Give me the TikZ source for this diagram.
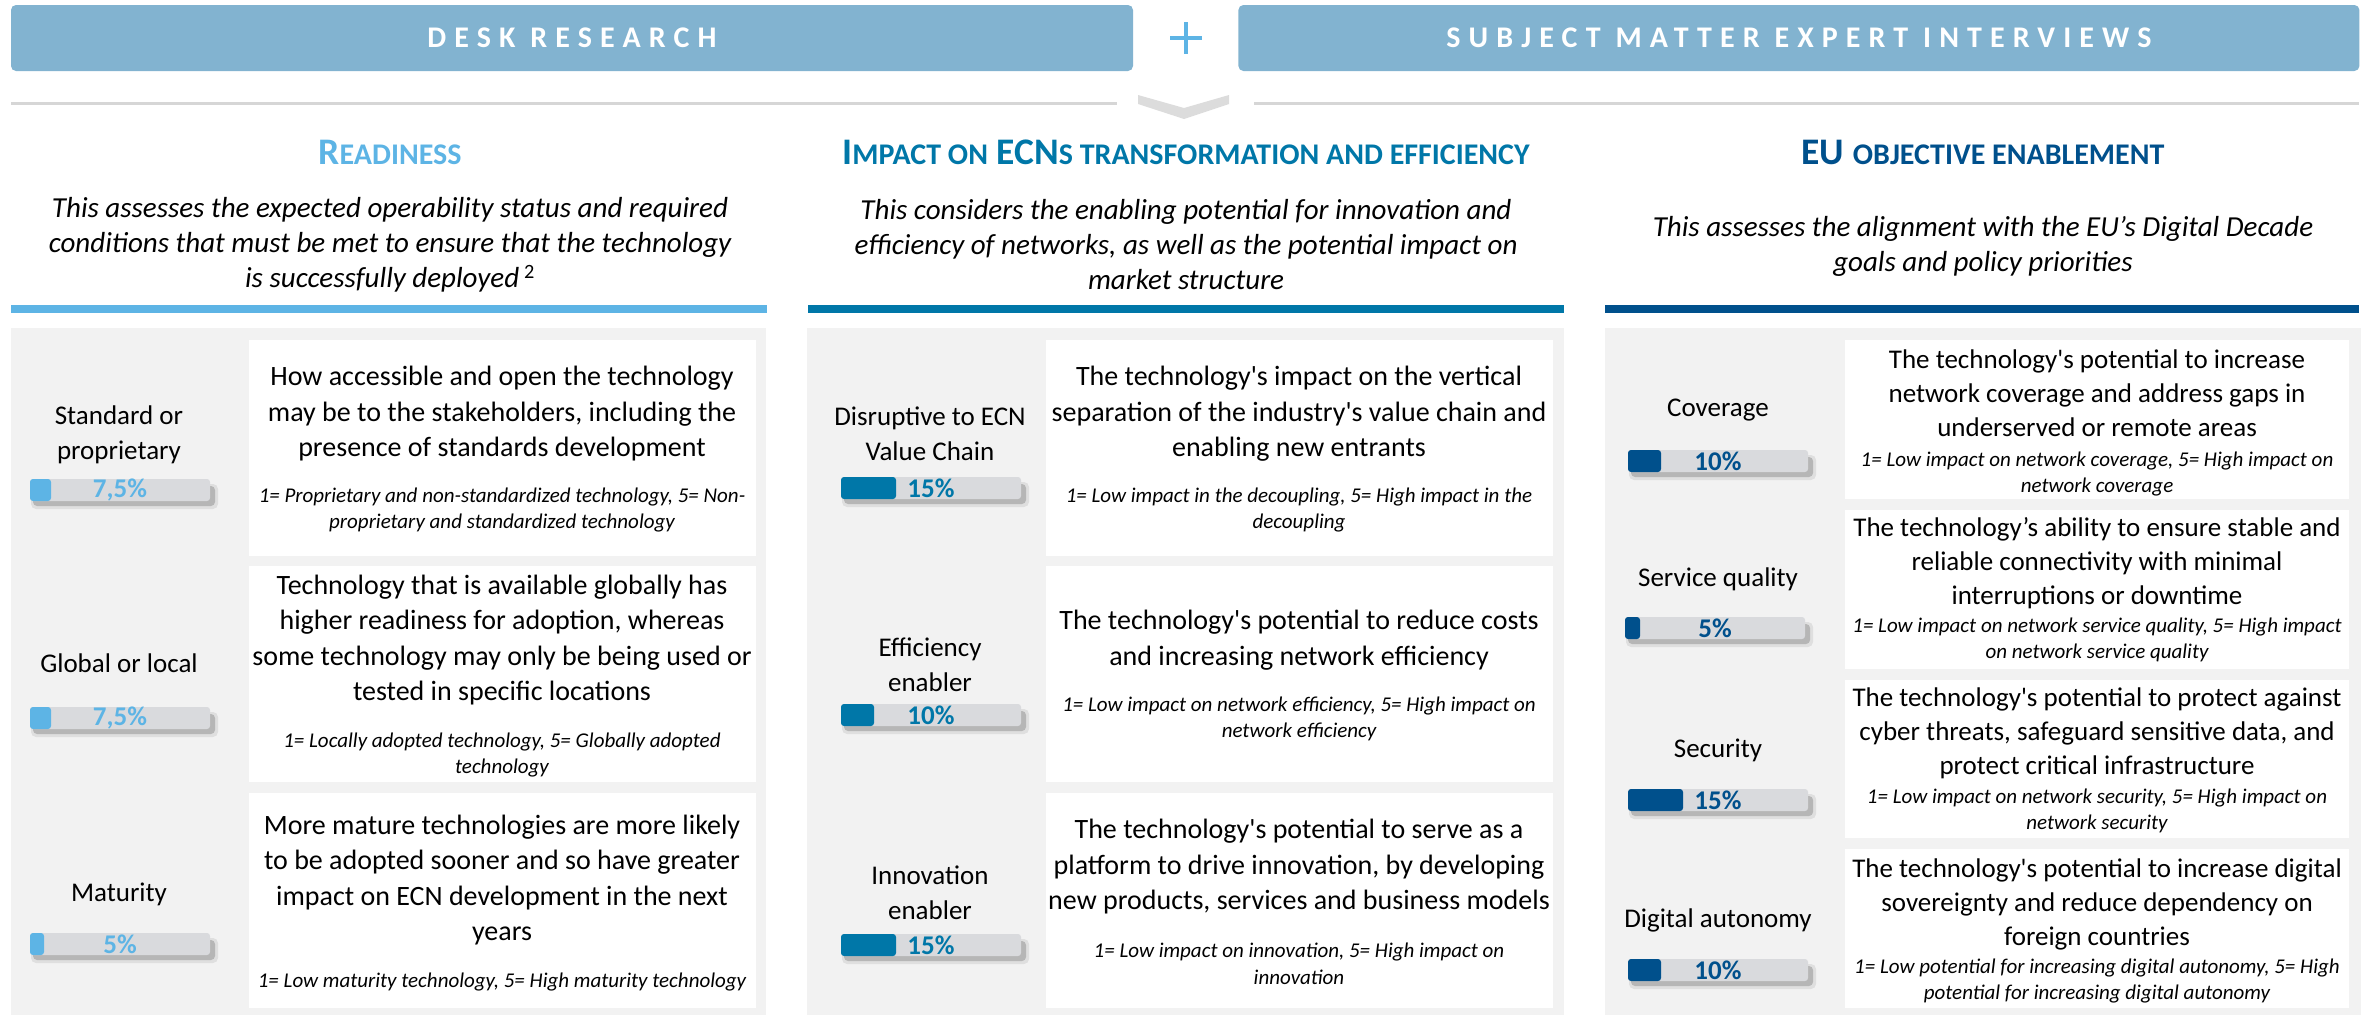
\documentclass[tikz,border=0pt]{standalone}
\usepackage{fontspec}
\setmainfont{Carlito}
\usetikzlibrary{positioning}
\definecolor{hdr}{RGB}{130,179,208}
\definecolor{cread}{RGB}{93,180,229}
\definecolor{cimp}{RGB}{0,119,168}
\definecolor{ceu}{RGB}{0,80,140}
\definecolor{panel}{RGB}{242,242,242}
\definecolor{rulegray}{RGB}{214,214,214}
\definecolor{track}{RGB}{217,218,221}
\newcommand{\fs}[2]{\fontsize{#1}{#2}\selectfont}
\newcommand{\smc}[1]{{\fs{30}{34}#1}}
\newcommand{\aq}{\textquotesingle}
% name, left x, centre y, fill width, colour, value
\newcommand{\pbar}[6]{%
  \fill[black,opacity=.08,rounded corners=5pt] (#2+1,#3-6) rectangle (#2+188,#3+19);
  \fill[black,opacity=.18,rounded corners=4pt] (#2+3,#3-4) rectangle (#2+185,#3+16);
  \fill[track,rounded corners=3pt] (#2,#3-11) rectangle (#2+180,#3+11);
  \fill[#5,rounded corners=3pt] (#2,#3-11) rectangle (#2+#4,#3+11);
  \node[pct,text=#5] (#1) at (#2+90,#3) {#6};}

\begin{document}
\begin{tikzpicture}[x=1pt,y=-1pt,
    hdrbox/.style={fill=hdr,rounded corners=5pt,text=white,inner sep=0pt,minimum height=66pt,
      font=\fs{30}{36}\bfseries\addfontfeatures{LetterSpace=27}},
    title/.style={font=\bfseries\fs{37.5}{42},anchor=base,inner sep=0pt},
    lead/.style={font=\itshape\fs{29}{35},align=center,inner sep=0pt},
    body/.style={font=\fs{28}{35.5},align=center,inner sep=0pt},
    ebody/.style={body,font=\fs{27}{34}},
    hint/.style={font=\itshape\fs{21}{26.5},align=center,inner sep=0pt},
    crit/.style={font=\fs{27}{35},align=center,inner sep=0pt},
    pct/.style={font=\bfseries\fs{27}{30},inner sep=0pt}]
  \useasboundingbox (0,0) rectangle (2369,1015);

  % top row
  \node[hdrbox,minimum width=1122pt] (desk) at (572,38) {DESK RESEARCH};
  \node[hdrbox,minimum width=1121pt,right=105pt of desk] (sme) {SUBJECT MATTER EXPERT INTERVIEWS};
  \draw[cread,line width=4pt] (1170,38) -- (1202,38) (1186,22) -- (1186,54);
  \draw[rulegray,line width=3pt] (11,103) -- (1117,103) (1254,103) -- (2359,103);
  \fill[rulegray!85!white] (1138,95) -- (1184,108) -- (1229,95) -- (1229,104) -- (1184,119) -- (1138,104) -- cycle;

  % titles
  \node[title,text=cread] (rtitle) at (390,164) {R\smc{EADINESS}};
  \node[title,text=cimp] (ititle) at (1186,164) {I\smc{MPACT ON} ECN\smc{S TRANSFORMATION AND EFFICIENCY}};
  \node[title,text=ceu] (etitle) at (1983,164) {EU \smc{OBJECTIVE ENABLEMENT}};
  \node[lead] (rlead) at (390,245) {This assesses the expected operability status and required\\conditions that must be met to ensure that the technology\\is successfully deployed\,\textsuperscript{\upshape 2}};
  \node[lead] (ilead) at (1186,245) {This considers the enabling potential for innovation and\\efficiency of networks, as well as the potential impact on\\market structure};
  \node[lead] (elead) at (1983,246) {This assesses the alignment with the EU’s Digital Decade\\goals and policy priorities};
  \fill[cread] (11,305) rectangle (767,313);
  \fill[cimp] (808,305) rectangle (1564,313);
  \fill[ceu] (1605,305) rectangle (2359,313);

  % panels
  \fill[panel] (11,328) rectangle (766,1015);
  \fill[panel] (807,328) rectangle (1564,1015);
  \fill[panel] (1605,328) rectangle (2361,1015);
  \foreach \t/\b in {340/556,566/782,793/1008} {
    \fill[white] (249,\t) rectangle (756,\b);
    \fill[white] (1046,\t) rectangle (1553,\b);
  }
  \foreach \t/\b in {340/499,510/669,680/838,849/1008}
    \fill[white] (1845,\t) rectangle (2349,\b);

  % readiness
  \node[body] (r1t) at (502,414) {How accessible and open the technology\\may be to the stakeholders, including the\\presence of standards development};
  \node[hint] (r1h) at (502,510) {1= Proprietary and non-standardized technology, 5= Non-\\proprietary and standardized technology};
  \node[crit] (r1l) at (119,435) {Standard or\\proprietary};
  \pbar{r1p}{30}{490}{21}{cread}{7,5\%}
  \node[body] (r2t) at (502,640) {Technology that is available globally has\\higher readiness for adoption, whereas\\some technology may only be being used or\\tested in specific locations};
  \node[hint] (r2h) at (502,755) {1= Locally adopted technology, 5= Globally adopted\\technology};
  \node[crit] (r2l) at (119,663) {Global or local};
  \pbar{r2p}{30}{718}{21}{cread}{7,5\%}
  \node[body] (r3t) at (502,880) {More mature technologies are more likely\\to be adopted sooner and so have greater\\impact on ECN development in the next\\years};
  \node[hint] (r3h) at (502,982) {1= Low maturity technology, 5= High maturity technology};
  \node[crit] (r3l) at (119,894) {Maturity};
  \pbar{r3p}{30}{944}{14}{cread}{5\%}

  % impact
  \node[body] (i1t) at (1299,414) {The technology\aq s impact on the vertical\\separation of the industry\aq s value chain and\\enabling new entrants};
  \node[hint] (i1h) at (1299,510) {1= Low impact in the decoupling, 5= High impact in the\\decoupling};
  \node[crit] (i1l) at (930,434) {Disruptive to ECN\\Value Chain};
  \pbar{i1p}{841}{488}{55}{cimp}{15\%}
  \node[body] (i2t) at (1299,640) {The technology\aq s potential to reduce costs\\and increasing network efficiency};
  \node[hint] (i2h) at (1299,719) {1= Low impact on network efficiency, 5= High impact on\\network efficiency};
  \node[crit] (i2l) at (930,665) {Efficiency\\enabler};
  \pbar{i2p}{841}{715}{33}{cimp}{10\%}
  \node[body] (i3t) at (1299,867) {The technology\aq s potential to serve as a\\platform to drive innovation, by developing\\new products, services and business models};
  \node[hint] (i3h) at (1299,964) {1= Low impact on innovation, 5= High impact on\\innovation};
  \node[crit] (i3l) at (930,893) {Innovation\\enabler};
  \pbar{i3p}{841}{945}{55}{cimp}{15\%}

  % eu objectives
  \node[ebody] (e1t) at (2097,393) {The technology\aq s potential to increase\\network coverage and address gaps in\\underserved or remote areas};
  \node[hint] (e1h) at (2097,474) {1= Low impact on network coverage, 5= High impact on\\network coverage};
  \node[crit] (e1l) at (1718,410) {Coverage};
  \pbar{e1p}{1628}{461}{33}{ceu}{10\%}
  \node[ebody] (e2t) at (2097,563) {The technology’s ability to ensure stable and\\reliable connectivity with minimal\\interruptions or downtime};
  \node[hint] (e2h) at (2097,640) {1= Low impact on network service quality, 5= High impact\\on network service quality};
  \node[crit] (e2l) at (1718,579) {Service quality};
  \pbar{e2p}{1625}{628}{15}{ceu}{5\%}
  \node[ebody] (e3t) at (2097,733) {The technology\aq s potential to protect against\\cyber threats, safeguard sensitive data, and\\protect critical infrastructure};
  \node[hint] (e3h) at (2097,811) {1= Low impact on network security, 5= High impact on\\network security};
  \node[crit] (e3l) at (1718,750) {Security};
  \pbar{e3p}{1628}{800}{55}{ceu}{15\%}
  \node[ebody] (e4t) at (2097,904) {The technology\aq s potential to increase digital\\sovereignty and reduce dependency on\\foreign countries};
  \node[hint] (e4h) at (2097,981) {1= Low potential for increasing digital autonomy, 5= High\\potential for increasing digital autonomy};
  \node[crit] (e4l) at (1718,920) {Digital autonomy};
  \pbar{e4p}{1628}{970}{33}{ceu}{10\%}
\end{tikzpicture}
\end{document}
